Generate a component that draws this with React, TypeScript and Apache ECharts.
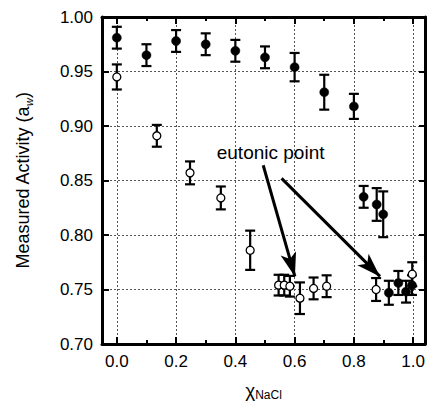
import React, { useEffect, useRef } from "react";
import * as echarts from "echarts";

const FONT = "'Liberation Sans', Arial, Helvetica, sans-serif";

// Filled circles
const filledX = [0.0, 0.1, 0.2, 0.3, 0.4, 0.5, 0.6, 0.7, 0.8, 0.833, 0.877, 0.899, 0.918, 0.95, 0.976, 0.996];
const filledY = [0.981, 0.965, 0.978, 0.975, 0.969, 0.963, 0.954, 0.931, 0.918, 0.835, 0.828, 0.819, 0.747, 0.756, 0.748, 0.754];
const filledErr = [0.01, 0.01, 0.01, 0.01, 0.01, 0.01, 0.013, 0.016, 0.0115, 0.01, 0.015, 0.021, 0.011, 0.011, 0.01, 0.009];

// Open circles
const openX = [0.0, 0.135, 0.247, 0.351, 0.45, 0.546, 0.565, 0.584, 0.618, 0.664, 0.708, 0.875, 0.997];
const openY = [0.945, 0.891, 0.857, 0.834, 0.786, 0.754, 0.754, 0.753, 0.742, 0.751, 0.753, 0.75, 0.764];
const openErr = [0.0115, 0.01, 0.0105, 0.0105, 0.018, 0.0095, 0.0095, 0.0095, 0.0145, 0.01, 0.01, 0.0105, 0.011];

const xMajorTicks = [0, 0.2, 0.4, 0.6, 0.8, 1.0];
const xMinorTicks = [0.1, 0.3, 0.5, 0.7, 0.9];

const annotationText = "eutonic point";
const annotationPos = [0.519, 0.8755];
const arrowStarts = [
  [0.494, 0.864],
  [0.556, 0.852],
];
const arrowEnds = [
  [0.601, 0.762],
  [0.888, 0.762],
];

function errorData(xs: number[], ys: number[], es: number[]) {
  return xs.map((x, i) => [x, ys[i] - es[i], ys[i] + es[i]]);
}

function pointData(xs: number[], ys: number[]) {
  return xs.map((x, i) => [x, ys[i]]);
}

const renderErr = (params: any, api: any) => {
  const x = api.value(0);
  const lo = api.value(1);
  const hi = api.value(2);
  const p1 = api.coord([x, lo]);
  const p2 = api.coord([x, hi]);
  const hw = 5;
  const style = { stroke: "#000", lineWidth: 2.2 };
  return {
    type: "group",
    children: [
      { type: "line", shape: { x1: p1[0], y1: p1[1], x2: p2[0], y2: p2[1] }, style },
      { type: "line", shape: { x1: p1[0] - hw, y1: p1[1], x2: p1[0] + hw, y2: p1[1] }, style },
      { type: "line", shape: { x1: p2[0] - hw, y1: p2[1], x2: p2[0] + hw, y2: p2[1] }, style },
    ],
  };
};

export default function App() {
  const ref = useRef<HTMLDivElement>(null);
  useEffect(() => {
    document.body.style.margin = "0";
    if (!ref.current) return;
    const chart = echarts.init(ref.current, undefined, { renderer: "svg" });
    const axisLineStyle = { color: "#000", width: 3 };
    const option: any = {
      animation: false,
      backgroundColor: "#fff",
      textStyle: { fontFamily: FONT },
      grid: { left: 102, right: 3, top: 17, bottom: 64, containLabel: false },
      xAxis: [
        {
          type: "value",
          min: -0.05,
          max: 1.04,
          position: "bottom",
          axisLine: { show: true, onZero: false, lineStyle: axisLineStyle },
          axisTick: { show: true, inside: true, length: 7, customValues: xMajorTicks, lineStyle: { color: "#000", width: 2 } },
          axisLabel: {
            show: true,
            customValues: xMajorTicks,
            margin: 9,
            fontSize: 17,
            color: "#000",
            fontFamily: FONT,
            formatter: (v: number) => v.toFixed(1),
          },
          splitLine: { show: true, lineStyle: { color: "#555", width: 1, type: [2, 2] } },
          name: "{a|χ}{s|NaCl}",
          nameLocation: "middle",
          nameGap: 37,
          nameTextStyle: {
            rich: {
              a: { fontSize: 19, lineHeight: 20, verticalAlign: "top", fontFamily: FONT, color: "#000" },
              s: { fontSize: 12, lineHeight: 12, padding: [12, 0, 0, 0], verticalAlign: "bottom", fontFamily: FONT, color: "#000" },
            },
          },
        },
        {
          type: "value",
          min: -0.05,
          max: 1.04,
          position: "bottom",
          axisLine: { show: false, onZero: false },
          axisTick: { show: true, inside: true, length: 4, customValues: xMinorTicks, lineStyle: { color: "#000", width: 2 } },
          axisLabel: { show: false },
          splitLine: { show: false },
        },
        {
          type: "value",
          min: -0.05,
          max: 1.04,
          position: "top",
          axisLine: { show: true, onZero: false, lineStyle: axisLineStyle },
          axisTick: { show: true, inside: true, length: 7, customValues: xMajorTicks, lineStyle: { color: "#000", width: 2 } },
          axisLabel: { show: false },
          splitLine: { show: false },
        },
        {
          type: "value",
          min: -0.05,
          max: 1.04,
          position: "top",
          axisLine: { show: false, onZero: false },
          axisTick: { show: true, inside: true, length: 4, customValues: xMinorTicks, lineStyle: { color: "#000", width: 2 } },
          axisLabel: { show: false },
          splitLine: { show: false },
        },
      ],
      yAxis: [
        {
          type: "value",
          min: 0.7,
          max: 1.0,
          interval: 0.05,
          position: "left",
          axisLine: { show: true, onZero: false, lineStyle: axisLineStyle },
          axisTick: { show: true, inside: true, length: 7, lineStyle: { color: "#000", width: 2 } },
          axisLabel: {
            show: true,
            margin: 9,
            fontSize: 17,
            color: "#000",
            fontFamily: FONT,
            formatter: (v: number) => v.toFixed(2),
          },
          splitLine: { show: true, lineStyle: { color: "#555", width: 1, type: [2, 2] } },
          name: "{a|Measured Activity (a}{s|w}{a|)}",
          nameLocation: "middle",
          nameGap: 68,
          nameRotate: 90,
          nameTextStyle: {
            rich: {
              a: { fontSize: 18, lineHeight: 20, verticalAlign: "top", fontFamily: FONT, color: "#000" },
              s: { fontSize: 11, lineHeight: 11, padding: [12, 0, 0, 0], verticalAlign: "bottom", fontStyle: "italic", fontFamily: FONT, color: "#000" },
            },
          },
        },
        {
          type: "value",
          min: 0.7,
          max: 1.0,
          interval: 0.05,
          position: "right",
          axisLine: { show: true, onZero: false, lineStyle: axisLineStyle },
          axisTick: { show: true, inside: true, length: 6, lineStyle: { color: "#000", width: 2 } },
          axisLabel: { show: false },
          splitLine: { show: false },
        },
      ],
      series: [
        {
          type: "custom",
          name: "filledErr",
          xAxisIndex: 0,
          yAxisIndex: 0,
          renderItem: renderErr,
          encode: { x: 0, y: [1, 2] },
          data: errorData(filledX, filledY, filledErr),
          z: 2,
        },
        {
          type: "custom",
          name: "openErr",
          xAxisIndex: 0,
          yAxisIndex: 0,
          renderItem: renderErr,
          encode: { x: 0, y: [1, 2] },
          data: errorData(openX, openY, openErr),
          z: 2,
        },
        {
          type: "scatter",
          name: "open",
          xAxisIndex: 0,
          yAxisIndex: 0,
          symbol: "circle",
          symbolSize: 8,
          itemStyle: { color: "#fff", borderColor: "#000", borderWidth: 1.3, opacity: 1 },
          data: pointData(openX, openY),
          z: 3,
        },
        {
          type: "scatter",
          name: "filled",
          xAxisIndex: 0,
          yAxisIndex: 0,
          symbol: "circle",
          symbolSize: 9,
          itemStyle: { color: "#000", borderColor: "#000", borderWidth: 0.5, opacity: 1 },
          data: pointData(filledX, filledY),
          z: 4,
          markPoint: {
            symbol: "rect",
            symbolSize: 1,
            itemStyle: { color: "rgba(0,0,0,0)" },
            label: {
              show: true,
              position: "inside",
              formatter: annotationText,
              fontSize: 19,
              color: "#000",
              fontFamily: FONT,
            },
            data: [{ coord: annotationPos }],
          },
          markLine: {
            silent: true,
            symbol: ["none", "arrow"],
            symbolSize: [12, 24],
            lineStyle: { color: "#000", width: 3, type: "solid" },
            label: { show: false },
            data: arrowStarts.map((s, i) => [{ coord: s }, { coord: arrowEnds[i] }]),
          },
        },
      ],
    };
    chart.setOption(option);
    return () => chart.dispose();
  }, []);
  return <div ref={ref} style={{ width: 428, height: 408 }} />;
}
